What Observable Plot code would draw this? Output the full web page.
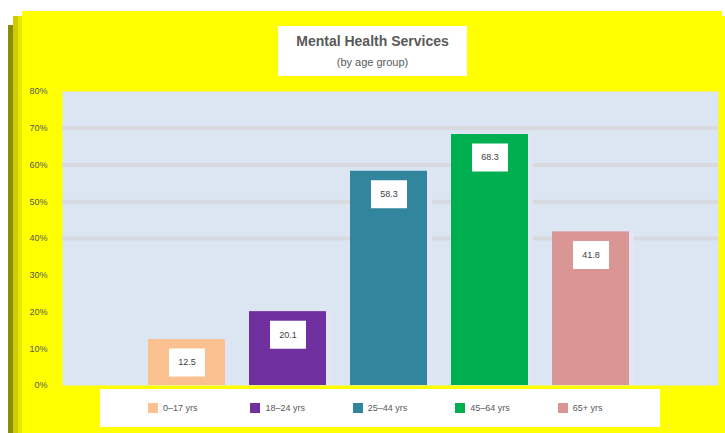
<!DOCTYPE html>
<html><head><meta charset="utf-8">
<script src="https://cdn.jsdelivr.net/npm/d3@7"></script>
<script src="https://cdn.jsdelivr.net/npm/@observablehq/plot@0.6"></script>
<style>
body{margin:0;background:#fff;font-family:"Liberation Sans",Arial,sans-serif}
#wrap{position:relative;width:725px;height:433px;overflow:hidden}
.abs{position:absolute}
#title{left:278px;top:26px;width:189px;height:50px;background:#fff;text-align:center;color:#595959}
#title .t{font-size:14px;font-weight:bold;margin-top:7px;line-height:16px}
#title .s{font-size:11px;margin-top:6px;line-height:14px}
#legend{left:100px;top:389px;width:560px;height:38px;background:#fff;display:flex;box-sizing:border-box;padding-left:48px;align-items:center}
#legend .it{width:106px;display:flex;align-items:center;font-size:9px;color:#595959}
#legend .sw{width:10px;height:10px;margin-right:5px}
</style></head><body>
<div id="wrap">
 <div class="abs" style="left:8px;top:25px;width:6px;height:408px;background:#8c8c00"></div>
 <div class="abs" style="left:13px;top:16px;width:5px;height:417px;background:#cccc00"></div>
 <div class="abs" style="left:18px;top:16px;width:4px;height:417px;background:#e8e800"></div>
 <div class="abs" style="left:22px;top:11px;width:700px;height:422px;background:#ffff00"></div>
 <div class="abs" style="left:22px;top:16px;width:703px;height:417px;background:#ffff00"></div>
 <div id="chart" class="abs" style="left:0;top:0"></div>
 <div id="title" class="abs"><div class="t">Mental Health Services</div><div class="s">(by age group)</div></div>
 <div id="legend" class="abs"></div>
</div>
<script>
const categories = ["0–17 yrs", "18–24 yrs", "25–44 yrs", "45–64 yrs", "65+ yrs"];
const values = [12.5, 20.1, 58.3, 68.3, 41.8];
const colors = ["#fac090", "#7030a0", "#31859c", "#00b050", "#d99694"];
const yTicks = [0, 10, 20, 30, 40, 50, 60, 70, 80];
const gridTicks = [40, 50, 60, 70];

const data = categories.map((c, i) => ({cat: c, val: values[i]}));

const boxSymbol = {draw(ctx) { ctx.rect(-18, -14, 36, 28); }};

const chart = Plot.plot({
  width: 725, height: 433,
  marginLeft: 62, marginRight: 7, marginTop: 91, marginBottom: 48,
  style: {background: "transparent", fontFamily: "Liberation Sans, Arial, sans-serif", fontSize: "9px", color: "#595959"},
  x: {type: "band", domain: categories, paddingInner: 0.24, paddingOuter: 0.85, align: 0.488, axis: null},
  y: {domain: [0, 80], axis: null},
  color: {domain: categories, range: colors},
  marks: [
    Plot.frame({fill: "#dce6f2", stroke: "none"}),
    Plot.ruleY(gridTicks, {stroke: "#d7d9de", strokeWidth: 4}),
    Plot.barY(data, {x: "cat", y: "val", fill: "#e4e5f4", dx: 5}),
    Plot.barY(data, {x: "cat", y: "val", fill: "cat"}),
    Plot.dot(data, {x: "cat", y: "val", dy: 23, symbol: boxSymbol, r: 1, fill: "white", stroke: "none"}),
    Plot.text(data, {x: "cat", y: "val", dy: 23, text: d => d.val.toFixed(1), fill: "#404040", fontSize: 9}),
    Plot.axisY(yTicks, {tickSize: 0, tickPadding: 15, tickFormat: d => d + "%", fontSize: 9, fill: "#595959", label: null})
  ]
});
document.getElementById("chart").append(chart);

const leg = document.getElementById("legend");
categories.forEach((c, i) => {
  const it = document.createElement("div");
  it.className = "it";
  it.innerHTML = `<span class="sw" style="background:${colors[i]}"></span><span>${c}</span>`;
  leg.append(it);
});
</script>
</body></html>
